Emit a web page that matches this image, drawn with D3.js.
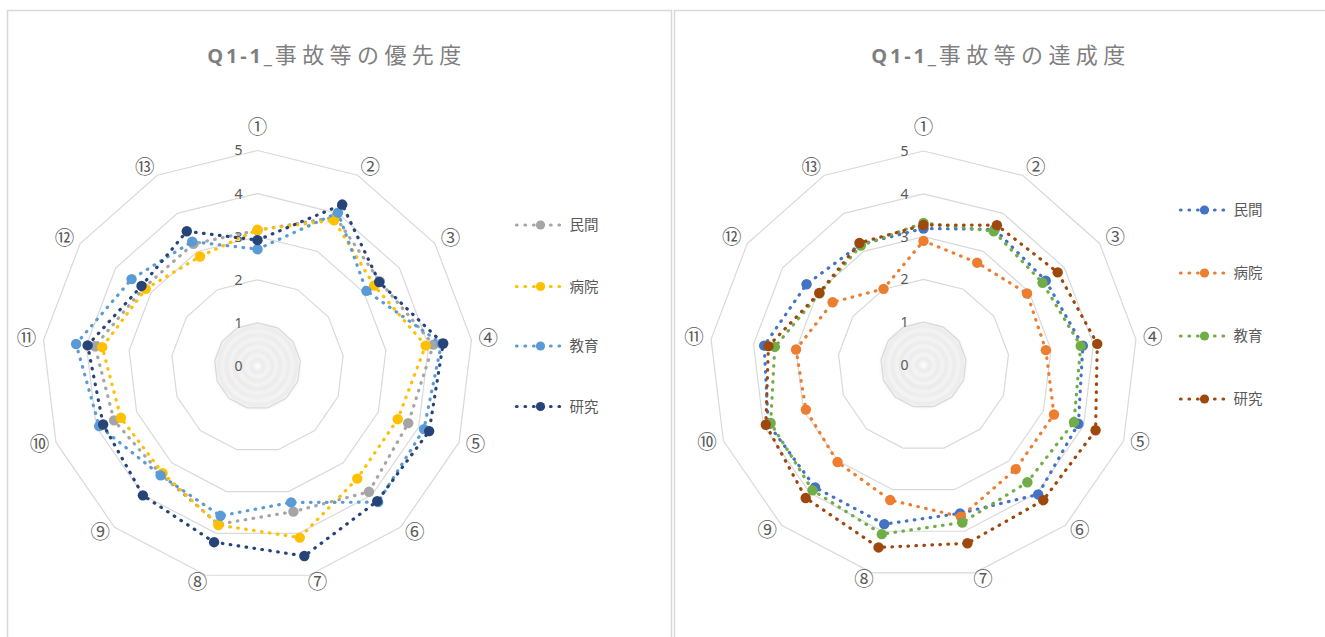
<!DOCTYPE html>
<html><head><meta charset="utf-8">
<script src="https://cdn.jsdelivr.net/npm/d3@7"></script>
<style>
html,body{margin:0;padding:0;background:#fff;}
svg{display:block;}
</style></head>
<body>
<svg id="chart" width="1325" height="637"></svg>
<script>
// ---------- data ----------
const axisLabels = ["①","②","③","④","⑤","⑥","⑦","⑧","⑨","⑩","⑪","⑫","⑬"];
const seriesNames = ["民間","病院","教育","研究"];
const tickValues = [0,1,2,3,4,5];

const titleLeft = ["Q1-1_","事故等の優先度"];
const titleRight = ["Q1-1_","事故等の達成度"];

// 優先度
const prioMinkan = [3.15,3.90,3.45,4.11,3.74,3.90,3.48,3.78,3.37,3.56,3.80,3.20,3.20];
const prioByoin  = [3.16,3.82,3.29,3.93,3.48,3.49,4.10,3.80,3.32,3.39,3.63,3.15,2.87];
const prioKyoiku = [2.71,4.02,3.07,4.30,4.13,4.22,3.26,3.58,3.39,3.93,4.24,3.55,3.26];
const prioKenkyu = [2.92,4.23,3.43,4.34,4.26,4.19,4.54,4.21,4.01,3.83,3.97,3.27,3.53];

// 達成度
const achMinkan = [3.19,3.58,3.47,3.75,3.87,4.04,3.57,3.83,3.82,3.88,3.75,3.32,3.18];
const achByoin  = [2.90,2.70,2.94,2.88,3.26,3.25,3.65,3.25,3.03,2.94,3.00,2.58,2.01];
const achKyoiku = [3.32,3.53,3.38,3.70,3.76,3.66,3.79,4.07,3.91,3.82,3.50,2.95,3.15];
const achKenkyu = [3.27,3.69,3.81,4.09,4.30,4.22,4.29,4.39,4.15,3.94,3.65,2.96,3.22];

const colorsLeft  = ["#A5A5A5","#FFC000","#5B9BD5","#264478"];
const colorsRight = ["#4472C4","#ED7D31","#70AD47","#9E480E"];

// ---------- drawing ----------
const svg = d3.select("#chart");
svg.append("rect").attr("width",1325).attr("height",637).attr("fill","#fff");

const defs = svg.append("defs");
defs.append("filter").attr("id","blur").attr("x","-50%").attr("y","-50%").attr("width","200%").attr("height","200%")
  .append("feGaussianBlur").attr("stdDeviation",2.4);

// panel borders
svg.append("rect").attr("x",7.5).attr("y",10.5).attr("width",664).attr("height",700)
  .attr("fill","none").attr("stroke","#d9d9d9").attr("stroke-width",1.5);
svg.append("rect").attr("x",674.5).attr("y",10.5).attr("width",700).attr("height",700)
  .attr("fill","none").attr("stroke","#d9d9d9").attr("stroke-width",1.5);

const FONT = "'Noto Sans CJK JP','Noto Sans',sans-serif";

function drawRadar(cfg){
  const g = svg.append("g");
  const n = axisLabels.length;
  const angle = d3.scaleLinear().domain([0,n]).range([0,2*Math.PI]);
  const r = d3.scaleLinear().domain([0,5]).range([0,cfg.R]);
  const pt = (i,v)=>[cfg.cx + r(v)*Math.sin(angle(i)), cfg.cy - r(v)*Math.cos(angle(i))];

  // title
  const t = g.append("text").attr("x",cfg.titleX).attr("y",63).attr("text-anchor","middle")
    .attr("fill","#7f7f7f").attr("font-family",FONT);
  t.append("tspan").text(cfg.title[0]).attr("font-weight","bold").attr("font-size",20)
    .attr("font-family","'Open Sans','Noto Sans',sans-serif").attr("letter-spacing",2.8);
  t.append("tspan").text(cfg.title[1]).attr("font-size",22).attr("letter-spacing",5.4);

  // center blurred rings
  const blurG = g.append("g").attr("filter","url(#blur)");
  [7,15,23,31,39].forEach((rad,k)=>{
    blurG.append("circle").attr("cx",cfg.cx).attr("cy",cfg.cy).attr("r",rad)
      .attr("fill","none").attr("stroke","#cfcfcf").attr("stroke-width",2.6);
  });

  // grid rings
  const line = d3.line();
  tickValues.filter(v=>v>0).forEach(v=>{
    const pts = d3.range(n).map(i=>pt(i,v));
    g.append("path").attr("d",line(pts)+"Z").attr("fill","none")
      .attr("stroke","#d9d9d9").attr("stroke-width",1.2);
  });

  // tick labels
  tickValues.forEach(v=>{
    g.append("text").attr("x",cfg.cx-15).attr("y",cfg.cy - r(v)).attr("dy","0.35em")
      .attr("text-anchor","end").attr("font-size",14).attr("fill","#595959")
      .attr("font-family","'Noto Sans',sans-serif").text(v);
  });

  // axis labels
  axisLabels.forEach((lab,i)=>{
    const a = angle(i), sx = Math.sin(a), sy = -Math.cos(a);
    const [vx,vy] = pt(i,5);
    const ox = Math.max(-1,Math.min(1,sx*3))*9 + sx*8;
    let oy = sy*8 - 1.5;
    if(i===0) oy = -24;
    g.append("text").attr("x",vx+ox).attr("y",vy+oy).attr("dy","0.36em")
      .attr("text-anchor","middle").attr("font-size",19.5).attr("fill","#595959")
      .attr("font-family",FONT).text(lab);
  });

  // series
  cfg.data.forEach((vals,s)=>{
    const col = cfg.colors[s];
    const pts = vals.map((v,i)=>pt(i,v));
    g.append("path").attr("d",line(pts)+"Z").attr("fill","none")
      .attr("stroke",col).attr("stroke-width",3.2).attr("stroke-linecap","round")
      .attr("stroke-dasharray","0.6 7.4");
    g.selectAll(null).data(pts).enter().append("circle")
      .attr("cx",d=>d[0]).attr("cy",d=>d[1]).attr("r",5.2).attr("fill",col);
  });

  // legend
  seriesNames.forEach((name,s)=>{
    const y = cfg.legY[s], col = cfg.colors[s];
    const x0 = cfg.legX;
    g.append("line").attr("x1",x0).attr("x2",x0+44).attr("y1",y).attr("y2",y)
      .attr("stroke",col).attr("stroke-width",3.2).attr("stroke-linecap","round")
      .attr("stroke-dasharray","0.6 7.9");
    g.append("circle").attr("cx",x0+24).attr("cy",y).attr("r",4.6).attr("fill",col);
    g.append("text").attr("x",x0+53).attr("y",y).attr("dy","0.36em")
      .attr("font-size",14.5).attr("fill","#595959").attr("font-family",FONT).text(name);
  });
}

drawRadar({cx:257.5, cy:366, R:215.5, titleX:337, title:titleLeft,
  data:[prioMinkan,prioByoin,prioKyoiku,prioKenkyu], colors:colorsLeft,
  legX:516.5, legY:[225,286.5,346,406.5]});

drawRadar({cx:923.5, cy:365, R:214, titleX:1001, title:titleRight,
  data:[achMinkan,achByoin,achKyoiku,achKenkyu], colors:colorsRight,
  legX:1180.5, legY:[210,273,336,399]});
</script>
</body></html>
